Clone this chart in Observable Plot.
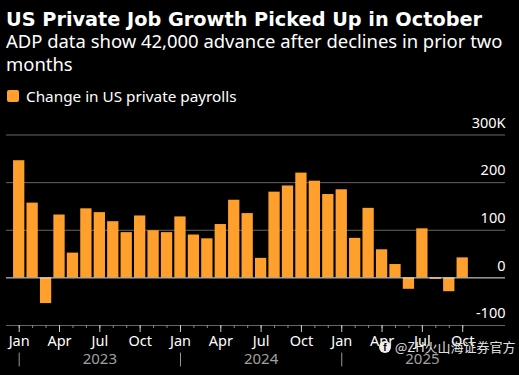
<!DOCTYPE html>
<html><head><meta charset="utf-8">
<script src="https://cdn.jsdelivr.net/npm/d3@7"></script>
<script src="https://cdn.jsdelivr.net/npm/@observablehq/plot@0.6"></script>
<style>
html,body{margin:0;padding:0;background:#000;width:519px;height:375px;overflow:hidden;font-family:"DejaVu Sans",sans-serif;color:#fff}
#t{position:absolute;left:6px;top:8px;font:bold 19.3px/24px "DejaVu Sans";white-space:nowrap}
#s{position:absolute;left:6px;top:30px;width:512px;font:18.45px/22.5px "Noto Sans"}
#l{position:absolute;left:7px;top:87px;font:15.3px/18px "Noto Sans";display:flex;align-items:center}
#l i{display:inline-block;width:12px;height:12px;background:#ffa02c;border-radius:2px;margin-right:7px}
#c{position:absolute;left:0;top:110px}
#w{position:absolute;left:395px;top:338px;font:13px/18px "Noto Sans CJK SC";color:#e0e0e0;white-space:nowrap}
#f{position:absolute;left:379px;top:341px;width:12px;height:12px;border-radius:50%;background:#eee;color:#000;font:bold 10px/13px "Liberation Sans";text-align:center}
</style></head><body>
<div id="t">US Private Job Growth Picked Up in October</div>
<div id="s">ADP data show 42,000 advance after declines in prior two months</div>
<div id="l"><i></i>Change in US private payrolls</div>
<div id="c"></div>
<div id="f">f</div>
<div id="w">@ZH火山海证券官方</div>
<script>
const monthNames = ["Jan","Feb","Mar","Apr","May","Jun","Jul","Aug","Sep","Oct","Nov","Dec"];
const years = [2023,2024,2025];
const changes = [246,157,-54,132,52,145,137,118,95,130,99,95,128,90,82,112,163,135,41,180,193,220,203,175,185,83,146,59,28,-24,103,-3,-29,42];
const periods = changes.map((_,i)=>`${years[Math.floor(i/12)]}-${monthNames[i%12]}`);
const rows = periods.map((p,i)=>({p,v:changes[i]}));
const quarters = periods.filter((_,i)=>i%3===0);
const janTicks = ["2023-Jan","2024-Jan","2025-Jan"];
const yearLabels = [{p:"2023-Jul",t:"2023"},{p:"2024-Jul",t:"2024"},{p:"2025-Jul",t:"2025"}];
const yTicks = [-100,0,100,200,300];
const orange="#ffa02c";
const chart = Plot.plot({
  width:519,height:265,marginLeft:6,marginRight:14,marginTop:10,marginBottom:50,
  style:{background:"transparent",color:"#fff",fontFamily:"Noto Sans",overflow:"visible"},
  x:{type:"band",domain:periods,range:[10.9,470],padding:0.16,round:false},
  y:{domain:[-100,300],range:[215,24.5]},
  marks:[
    Plot.ruleY([100,200,300],{stroke:"#666",strokeWidth:1}),
    Plot.ruleY([-100],{stroke:"#666",strokeWidth:1}),
    Plot.barY(rows,{x:"p",y:"v",fill:orange}),
    Plot.ruleY([0],{stroke:"#e8e8e8",strokeWidth:1}),
    Plot.axisX({ticks:periods,tickSize:3,stroke:"#888",text:null,label:null}),
    Plot.axisX({ticks:quarters,tickSize:7,stroke:"#ccc",label:null,tickPadding:3,fontSize:14.5,
      tickFormat:d=>d.split("-")[1],fill:"#fff"}),
    Plot.ruleX(janTicks,{x:d=>d,y1:-158,y2:-187,stroke:"#999"}),
    Plot.text(yearLabels,{x:"p",y:-170,text:"t",fill:"#a0a0a0",fontSize:15}),
    Plot.axisY({ticks:yTicks,anchor:"right",tickSize:0,tickPadding:0,textAnchor:"end",dy:-12,fontSize:14.5,fill:"#fff",label:null,
      tickFormat:d=>d===300?"300K":d<0?"-"+(-d):String(d)})
  ]
});
document.getElementById("c").append(chart);
</script></body></html>
